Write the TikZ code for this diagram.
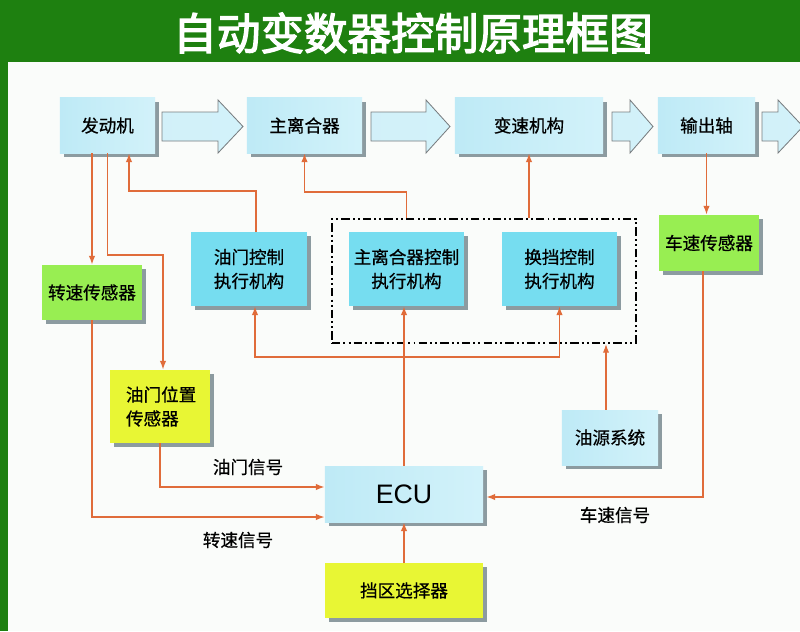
\documentclass[tikz,border=0pt]{standalone}
\usepackage{fontspec}
\newfontfamily\cjk[FakeBold=0.6]{Noto Sans CJK SC}
\newfontfamily\cjkt[FakeBold=3]{Noto Sans CJK SC}
\newfontfamily\arialf{Liberation Sans}
\usetikzlibrary{shadows,arrows.meta,calc}
\definecolor{bggreen}{RGB}{30,128,16}
\definecolor{panel}{RGB}{250,252,250}
\definecolor{lcyan}{RGB}{190,234,246}
\definecolor{lcyanr}{RGB}{210,242,250}
\definecolor{cyanbox}{RGB}{118,221,240}
\definecolor{greenbox}{RGB}{152,238,82}
\definecolor{yellowbox}{RGB}{232,246,52}
\definecolor{shadowgray}{RGB}{140,155,160}
\definecolor{lineor}{RGB}{224,108,58}
\definecolor{arrowedge}{RGB}{120,125,128}
\tikzset{
  boxbase/.style={inner sep=0pt, align=center, font=\cjk\fontsize{12.5pt}{17pt}\selectfont,
    drop shadow={shadow xshift=0.11cm, shadow yshift=-0.11cm, fill=shadowgray, opacity=1}},
  lightbox/.style={boxbase, left color=lcyan, middle color=white, right color=lcyanr},
  cyanb/.style={boxbase, fill=cyanbox},
  greenb/.style={boxbase, fill=greenbox},
  yellowb/.style={boxbase, fill=yellowbox},
  conn/.style={draw=lineor, line width=1pt, -{Latex[length=2.2mm,width=1.6mm]}},
  bigarrow/.style={draw=arrowedge, line width=0.6pt, left color=lcyan!70, middle color=white, right color=lcyanr},
  dashbox/.style={draw=black, line width=1.3pt, dash pattern=on 6pt off 2.2pt on 1.4pt off 2.2pt on 1.4pt off 2.2pt, inner sep=0pt},
  siglabel/.style={font=\cjk\fontsize{12.5pt}{15pt}\selectfont, inner sep=0pt}
}
\begin{document}
\begin{tikzpicture}[x=0.025cm,y=-0.025cm]
\useasboundingbox (0,0) rectangle (800,631);
\fill[bggreen] (0,0) rectangle (800,631);
\fill[panel] (8,62) rectangle (800,631);
\node[font=\cjkt\fontsize{31pt}{34pt}\selectfont, text=white, inner sep=0pt] (title) at (413,33) {自动变数器控制原理框图};

% big hollow arrows
\begin{scope}
\clip (0,0) rectangle (800,631);
\path[bigarrow] (162,112) -- (218,112) -- (218,100) -- (243,126.5) -- (218,153) -- (218,141) -- (162,141) -- cycle;
\path[bigarrow] (371,112) -- (426,112) -- (426,100) -- (450,126.5) -- (426,153) -- (426,141) -- (371,141) -- cycle;
\path[bigarrow] (612,112) -- (630,112) -- (630,100) -- (653,126.5) -- (630,153) -- (630,141) -- (612,141) -- cycle;
\path[bigarrow] (762,112) -- (778,112) -- (778,100) -- (803,126.5) -- (778,153) -- (778,141) -- (762,141) -- cycle;
\end{scope}

% top row
\node[lightbox, minimum width=2.375cm, minimum height=1.375cm] (eng) at (107.5,125.5) {发动机};
\node[lightbox, minimum width=2.875cm, minimum height=1.375cm] (clutch) at (304.5,125.5) {主离合器};
\node[lightbox, minimum width=3.7cm, minimum height=1.375cm] (gear) at (529,125.5) {变速机构};
\node[lightbox, minimum width=2.425cm, minimum height=1.375cm] (out) at (706.5,125.5) {输出轴};

% dashed group
\node[dashbox, minimum width=7.6cm, minimum height=3.1cm] (dbox) at (484,281) {};

% actuators
\node[cyanb, minimum width=2.9cm, minimum height=1.85cm] (thr) at (249,269) {油门控制\\执行机构};
\node[cyanb, minimum width=2.875cm, minimum height=1.85cm] (cla) at (406.5,269) {主离合器控制\\执行机构};
\node[cyanb, minimum width=2.875cm, minimum height=1.85cm] (sha) at (559.5,269) {换挡控制\\执行机构};

% sensors
\node[greenb, minimum width=2.5cm, minimum height=1.375cm] (rpm) at (92,292.5) {转速传感器};
\node[greenb, minimum width=2.5cm, minimum height=1.4cm] (vss) at (709,243) {车速传感器};
\node[yellowb, minimum width=2.5cm, minimum height=1.825cm, align=left, text width=1.7cm] (tps) at (160,406.5) {油门位置\\传感器};

\node[lightbox, minimum width=2.4cm, minimum height=1.375cm] (oil) at (610,437.5) {油源系统};
\node[lightbox, minimum width=3.95cm, minimum height=1.4cm, font=\arialf\fontsize{19pt}{22pt}\selectfont] (ecu) at (404,494) {ECU};
\node[yellowb, minimum width=3.95cm, minimum height=1.375cm] (sel) at (404,590.5) {挡区选择器};

% connectors
\draw[conn] (eng.south -| rpm.north) -- (rpm.north);
\draw[conn] (eng.south) |- ([xshift=0.075cm]tps.north |- 0,255) -- ([xshift=0.075cm]tps.north);
\draw[conn] ([xshift=0.175cm]thr.north) |- ([xshift=0.5375cm]eng.south |- 0,191) -- ([xshift=0.5375cm]eng.south);
\draw[conn] (cla.north |- dbox.north) |- (clutch.south |- 0,192) -- (clutch.south);
\draw[conn] (gear.south |- dbox.north) -- (gear.south);
\draw[conn] (out.south) -- (out.south |- vss.north);
\draw[conn] ([xshift=-0.15cm]vss.south) |- ([xshift=0.075cm,yshift=-0.075cm]ecu.east);
\draw[conn] (ecu.north) -- (ecu.north |- cla.south);
\coordinate (junc) at (ecu.north |- 0,357);
\draw[conn] (junc) -| ([xshift=0.15cm]thr.south);
\draw[conn] (junc) -| (sha.south);
\draw[conn] ([xshift=-0.1cm]oil.north) -- ([xshift=-0.1cm]oil.north |- dbox.south);
\draw[conn] (tps.south) |- ([yshift=0.175cm]ecu.west);
\draw[conn] (rpm.south) |- ([yshift=-0.575cm]ecu.west);
\draw[conn] (sel.north) -- (ecu.south);

% signal labels
\node[siglabel] (l1) at (248,467) {油门信号};
\node[siglabel] (l2) at (238,540) {转速信号};
\node[siglabel] (l3) at (615,515) {车速信号};
\end{tikzpicture}
\end{document}
